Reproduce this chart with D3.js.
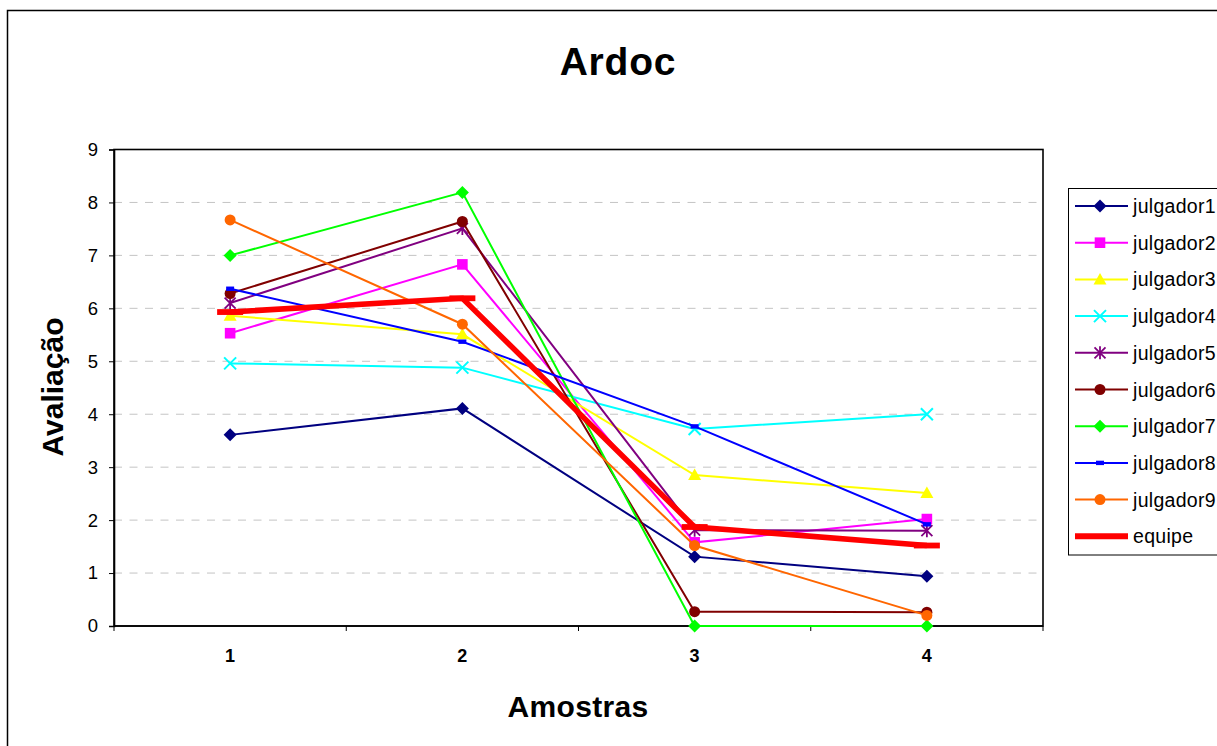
<!DOCTYPE html>
<html>
<head>
<meta charset="utf-8">
<script src="https://cdn.jsdelivr.net/npm/d3@7"></script>
<style>
  html, body { margin: 0; padding: 0; background: #fff; }
  svg { display: block; font-family: "Liberation Sans", Arial, sans-serif; }
</style>
</head>
<body>
<svg id="chart" width="1217" height="746"></svg>
<script>
// Samples on the x axis
const categories = ["1", "2", "3", "4"];

// Scores per judge, one value per sample
const julgador1 = [3.61, 4.11, 1.31, 0.94];
const julgador2 = [5.53, 6.83, 1.58, 2.02];
const julgador3 = [5.86, 5.51, 2.85, 2.51];
const julgador4 = [4.96, 4.88, 3.72, 4.00];
const julgador5 = [6.10, 7.51, 1.81, 1.80];
const julgador6 = [6.28, 7.64, 0.27, 0.26];
const julgador7 = [7.00, 8.19, 0.00, 0.00];
const julgador8 = [6.37, 5.37, 3.77, 1.92];
const julgador9 = [7.67, 5.70, 1.52, 0.20];
// Team mean
const equipe = [5.93, 6.19, 1.87, 1.52];

const yTicks = [0, 1, 2, 3, 4, 5, 6, 7, 8, 9];

const series = [
  { name: "julgador1", values: julgador1, color: "#000080", marker: "diamond" },
  { name: "julgador2", values: julgador2, color: "#FF00FF", marker: "square" },
  { name: "julgador3", values: julgador3, color: "#FFFF00", marker: "triangle" },
  { name: "julgador4", values: julgador4, color: "#00FFFF", marker: "x" },
  { name: "julgador5", values: julgador5, color: "#800080", marker: "star" },
  { name: "julgador6", values: julgador6, color: "#800000", marker: "circle" },
  { name: "julgador7", values: julgador7, color: "#00FF00", marker: "diamond" },
  { name: "julgador8", values: julgador8, color: "#0000FF", marker: "dash" },
  { name: "julgador9", values: julgador9, color: "#FF6600", marker: "circle" },
  { name: "equipe",    values: equipe,    color: "#FF0000", marker: "longdash", width: 5.5 }
];

const svg = d3.select("#chart");
const plot = { left: 114, top: 149.5, right: 1043, bottom: 626 };

const x = d3.scaleBand().domain(categories).range([plot.left, plot.right]);
const y = d3.scaleLinear().domain([0, 9]).range([plot.bottom, plot.top]);
const cx = c => x(c) + x.bandwidth() / 2;

// Outer chart frame
svg.append("rect")
  .attr("x", 7.5).attr("y", 10.5)
  .attr("width", 1300).attr("height", 800)
  .attr("fill", "none").attr("stroke", "#000").attr("stroke-width", 1.5);

// Title
svg.append("text")
  .attr("x", 618).attr("y", 75)
  .attr("text-anchor", "middle")
  .attr("font-size", 39).attr("font-weight", "bold")
  .attr("letter-spacing", 0.8)
  .text("Ardoc");

// Horizontal gridlines
svg.append("g")
  .selectAll("line")
  .data(yTicks.filter(t => t > 0 && t < 9))
  .join("line")
  .attr("x1", plot.left).attr("x2", plot.right)
  .attr("y1", d => y(d)).attr("y2", d => y(d))
  .attr("stroke", "#c4c4c4").attr("stroke-width", 1)
  .attr("stroke-dasharray", "8,7.5");

// Plot-area frame
svg.append("rect")
  .attr("x", plot.left).attr("y", plot.top)
  .attr("width", plot.right - plot.left).attr("height", plot.bottom - plot.top)
  .attr("fill", "none").attr("stroke", "#000").attr("stroke-width", 1.6);

// Y axis
const yAxis = svg.append("g")
  .attr("transform", `translate(${plot.left},0)`)
  .call(d3.axisLeft(y).tickValues(yTicks).tickSize(5).tickPadding(11).tickFormat(d3.format("d")));
yAxis.select(".domain").attr("stroke", "#000").attr("stroke-width", 1.6);
yAxis.selectAll(".tick line").attr("stroke", "#000");
yAxis.selectAll(".tick text")
  .attr("font-size", 18.5).attr("font-family", "Liberation Sans, Arial, sans-serif").attr("fill", "#000");

// X axis: ticks sit on band boundaries, labels in band centres
const xAxis = svg.append("g")
  .attr("transform", `translate(0,${plot.bottom})`);
xAxis.append("line")
  .attr("x1", plot.left).attr("x2", plot.right)
  .attr("stroke", "#000").attr("stroke-width", 1.6);
const bounds = categories.map(c => x(c)).concat([x(categories[categories.length - 1]) + x.bandwidth()]);
xAxis.selectAll("line.tk")
  .data(bounds)
  .join("line").attr("class", "tk")
  .attr("x1", d => d).attr("x2", d => d)
  .attr("y1", 0).attr("y2", 5)
  .attr("stroke", "#000");
xAxis.selectAll("text")
  .data(categories)
  .join("text")
  .attr("x", d => cx(d)).attr("y", 36)
  .attr("text-anchor", "middle")
  .attr("font-size", 18).attr("font-weight", "bold")
  .text(d => d);

// Axis titles
svg.append("text")
  .attr("x", 578).attr("y", 717)
  .attr("text-anchor", "middle")
  .attr("font-size", 30).attr("font-weight", "bold")
  .attr("letter-spacing", 0.3)
  .text("Amostras");
svg.append("text")
  .attr("transform", "translate(63,387) rotate(-90)")
  .attr("text-anchor", "middle")
  .attr("font-size", 30).attr("font-weight", "bold")
  .text("Avaliação");

// Marker drawing
function drawMarker(g, type, color) {
  switch (type) {
    case "diamond":
      g.append("path").attr("d", "M0,-6.5L6.5,0L0,6.5L-6.5,0Z").attr("fill", color);
      break;
    case "square":
      g.append("rect").attr("x", -5.3).attr("y", -5.3).attr("width", 10.6).attr("height", 10.6).attr("fill", color);
      break;
    case "triangle":
      g.append("path").attr("d", "M0,-6.5L6.5,5L-6.5,5Z").attr("fill", color);
      break;
    case "x":
      g.append("path").attr("d", "M-6,-6L6,6M-6,6L6,-6").attr("stroke", color).attr("stroke-width", 2).attr("fill", "none");
      break;
    case "star":
      g.append("path").attr("d", "M-5.5,-5.5L5.5,5.5M-5.5,5.5L5.5,-5.5M0,-6.5L0,6.5").attr("stroke", color).attr("stroke-width", 1.8).attr("fill", "none");
      break;
    case "circle":
      g.append("circle").attr("r", 5.5).attr("fill", color);
      break;
    case "dash":
      g.append("rect").attr("x", -4).attr("y", -2.2).attr("width", 8).attr("height", 4.4).attr("fill", color);
      break;
    case "longdash":
      g.append("rect").attr("x", -13).attr("y", -2.9).attr("width", 26).attr("height", 5.8).attr("fill", color);
      break;
  }
}

// Series lines and markers
const line = d3.line().x((d, i) => cx(categories[i])).y(d => y(d));
series.forEach(s => {
  const g = svg.append("g");
  g.append("path")
    .attr("d", line(s.values))
    .attr("fill", "none")
    .attr("stroke", s.color)
    .attr("stroke-width", s.width || 2)
    .attr("stroke-linejoin", "miter");
  s.values.forEach((v, i) => {
    drawMarker(g.append("g").attr("transform", `translate(${cx(categories[i])},${y(v)})`), s.marker, s.color);
  });
});

// Legend
const legend = svg.append("g");
legend.append("rect")
  .attr("x", 1068.5).attr("y", 188.5)
  .attr("width", 200).attr("height", 366.5)
  .attr("fill", "#fff").attr("stroke", "#000").attr("stroke-width", 1);
series.forEach((s, i) => {
  const ly = 206 + i * 36.7;
  const row = legend.append("g");
  row.append("line")
    .attr("x1", 1075).attr("x2", 1128).attr("y1", ly).attr("y2", ly)
    .attr("stroke", s.color).attr("stroke-width", s.width ? 6 : 2);
  if (s.marker !== "longdash") {
    drawMarker(row.append("g").attr("transform", `translate(1100,${ly})`), s.marker, s.color);
  }
  row.append("text")
    .attr("x", 1133).attr("y", ly + 7)
    .attr("font-size", 19.5)
    .attr("letter-spacing", 0.3)
    .text(s.name);
});
</script>
</body>
</html>
